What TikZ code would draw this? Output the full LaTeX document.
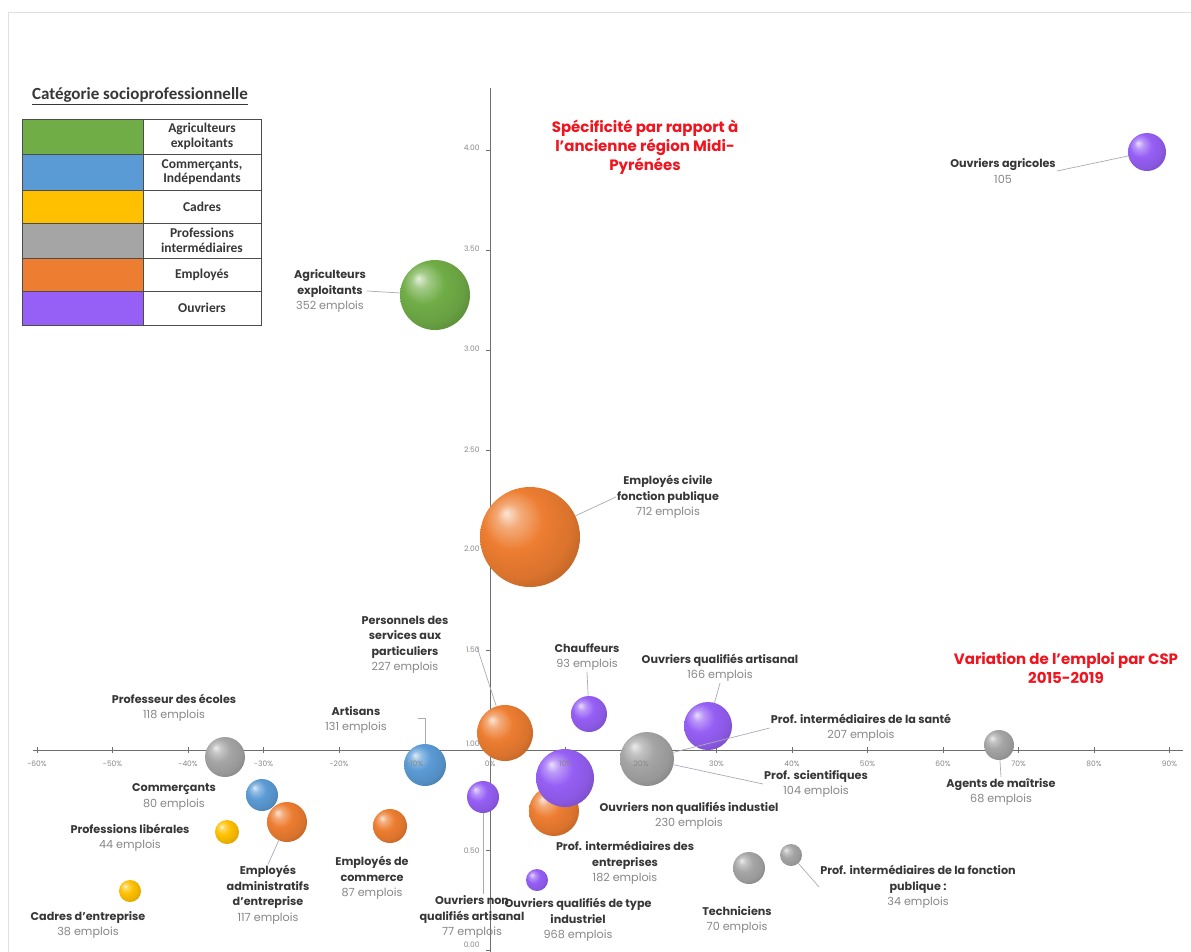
\documentclass[tikz,border=0pt]{standalone}
\usepackage{fontspec}
\setmainfont{Poppins}
\newfontfamily\legfont{Carlito}

\definecolor{cspgreen}{RGB}{112,173,71}
\definecolor{cspblue}{RGB}{91,155,213}
\definecolor{cspyellow}{RGB}{255,192,0}
\definecolor{cspgray}{RGB}{165,165,165}
\definecolor{csporange}{RGB}{237,125,49}
\definecolor{csppurple}{RGB}{150,95,245}
\definecolor{labgray}{RGB}{55,55,55}
\definecolor{numgray}{RGB}{135,135,135}
\definecolor{axisgray}{RGB}{110,110,110}
\definecolor{leadgray}{RGB}{170,170,185}
\definecolor{titlered}{RGB}{240,20,30}
\colorlet{bcol}{cspgray}

% sphere shading, coloured by bcol
\pgfdeclareradialshading[bcol]{cspball}{\pgfpoint{-12bp}{12bp}}{%
  color(0bp)=(bcol!20!white); color(6bp)=(bcol!65!white);
  color(15bp)=(bcol); color(26bp)=(bcol!92!black);
  color(38bp)=(bcol!72!black); color(50bp)=(bcol!45!black)}

\newcommand{\nb}[1]{\\{\mdseries\color{numgray}#1}}

\tikzset{
  bcolor/.code={\colorlet{bcol}{#1}},
  bubble/.style={circle, inner sep=0pt, minimum size=#1},
  sphere/.style={bcolor=#1, shading=cspball},
  lab/.style={align=center, inner sep=1pt, text=labgray,
    font=\bfseries\fontsize{11.2}{15.5}\selectfont},
  leader/.style={draw=leadgray, line width=0.7pt},
  axisline/.style={draw=axisgray, line width=1pt},
  ticklab/.style={text=numgray, font=\fontsize{7.5}{8}\selectfont},
  redtitle/.style={align=center, text=titlered,
    font=\bfseries\fontsize{15}{19}\selectfont},
  legcell/.style={align=center, text=labgray,
    font=\legfont\bfseries\fontsize{13.5}{14.5}\selectfont},
}

\begin{document}
\begin{tikzpicture}[x=1pt,y=-1pt]
	\useasboundingbox (0,0) rectangle (1191,951);
	\fill[white] (0,0) rectangle (1191,951);
	\draw[black!12] (8,12) rectangle (1200,960);

	% legend
	\node[text=labgray, font=\legfont\bfseries\fontsize{17}{18}\selectfont] (legtitle) at (140,96) {\underline{Catégorie socioprofessionnelle}};
	\fill[cspgreen] (22,119) rectangle (143,154);
	\fill[cspblue] (22,154) rectangle (143,190);
	\fill[cspyellow] (22,190) rectangle (143,223);
	\fill[cspgray] (22,223) rectangle (143,258);
	\fill[csporange] (22,258) rectangle (143,291);
	\fill[csppurple] (22,291) rectangle (143,325);
	\draw[black!70] (22,119) rectangle (261,325);
	\draw[black!70] (143,119) -- (143,325);
	\draw[black!70] (22,154) -- (261,154);
	\draw[black!70] (22,190) -- (261,190);
	\draw[black!70] (22,223) -- (261,223);
	\draw[black!70] (22,258) -- (261,258);
	\draw[black!70] (22,291) -- (261,291);
	\node[legcell] (leg1) at (202,136.5) {Agriculteurs\\exploitants};
	\node[legcell] (leg2) at (202,172) {Commerçants,\\Indépendants};
	\node[legcell] (leg3) at (202,206.5) {Cadres};
	\node[legcell] (leg4) at (202,240.5) {Professions\\intermédiaires};
	\node[legcell] (leg5) at (202,274.5) {Employés};
	\node[legcell] (leg6) at (202,308) {Ouvriers};

	% axes
	\draw[axisline] (33,750) -- (1183,750);
	\draw[axisline] (490,88) -- (490,960);
	\foreach \k in {-6,...,9}
		\draw[axisgray] (490+75.5*\k,747) -- (490+75.5*\k,753);
	\foreach \v in {0,...,8}
		\draw[axisgray] (486,950-100*\v) -- (490,950-100*\v);

	% bubbles
	\node[bubble=38, sphere=csppurple] (b_ouvagr) at (1147,152) {};
	\node[bubble=70, sphere=cspgreen] (b_agr) at (435,295) {};
	\node[bubble=100, sphere=csporange] (b_civ) at (530,537) {};
	\node[bubble=56, sphere=csporange] (b_pers) at (505,733) {};
	\node[bubble=36, sphere=csppurple] (b_chauf) at (589,714) {};
	\node[bubble=48, sphere=csppurple] (b_ouvqa) at (708,726) {};
	\node[bubble=54, sphere=cspgray] (b_sante) at (647,759) {};
	\node[bubble=30, sphere=cspgray] (b_agents) at (999,745) {};
	\node[bubble=40, sphere=cspgray] (b_profe) at (225,757) {};
	\node[bubble=42, sphere=cspblue] (b_art) at (425,765) {};
	\node[bubble=32, sphere=cspblue] (b_comm) at (262,795) {};
	\node[bubble=24, sphere=cspyellow] (b_lib) at (227,832) {};
	\node[bubble=40, sphere=csporange] (b_empadm) at (287,822) {};
	\node[bubble=34, sphere=csporange] (b_empcom) at (390,826) {};
	\node[bubble=22, sphere=cspyellow] (b_cadres) at (130,891) {};
	\node[bubble=32, sphere=csppurple] (b_ouvnqa) at (483,797) {};
	\node[bubble=50, sphere=csporange] (b_entr) at (554,811) {};
	\node[bubble=58, sphere=csppurple] (b_ouvnqi) at (565,778) {};
	\node[bubble=22, sphere=csppurple] (b_ouvqi) at (537,880) {};
	\node[bubble=32, sphere=cspgray] (b_techn) at (749,868) {};
	\node[bubble=22, sphere=cspgray] (b_fpub) at (791,855) {};

	% tick labels
	\foreach \k in {-6,...,9}
		\node[ticklab] at (490+75.5*\k,764) {\pgfmathtruncatemacro\p{10*\k}\p\%};
	\node[ticklab, anchor=east] (y400) at (483,148) {4.00};
	\node[ticklab, anchor=east] (y350) at (483,249) {3.50};
	\node[ticklab, anchor=east] (y300) at (483,349) {3.00};
	\node[ticklab, anchor=east] (y250) at (483,450) {2.50};
	\node[ticklab, anchor=east] (y200) at (483,549) {2.00};
	\node[ticklab, anchor=east] (y150) at (483,650) {1.50};
	\node[ticklab, anchor=east] (y100) at (483,744) {1.00};
	\node[ticklab, anchor=east] (y050) at (483,851) {0.50};
	\node[ticklab, anchor=east] (y000) at (483,945) {0.00};

	% titles
	\node[redtitle] (t_spec) at (645,147) {Spécificité par rapport à\\l'ancienne région Midi-\\Pyrénées};
	\node[redtitle] (t_var) at (1066,668) {Variation de l'emploi par CSP\\2015-2019};

	% labels
	\node[lab] (l_ouvagr) at (1003,171) {Ouvriers agricoles\nb{105}};
	\node[lab] (l_agr) at (330,291) {Agriculteurs\\exploitants\nb{352 emplois}};
	\node[lab] (l_civ) at (668,497) {Employés civile\\fonction publique\nb{712 emplois}};
	\node[lab] (l_pers) at (405,645) {Personnels des\\services aux\\particuliers\nb{227 emplois}};
	\node[lab] (l_chauf) at (587,657) {Chauffeurs\nb{93 emplois}};
	\node[lab] (l_ouvqa) at (720,668) {Ouvriers qualifiés artisanal\nb{166 emplois}};
	\node[lab] (l_sante) at (861,728) {Prof. intermédiaires de la santé\nb{207 emplois}};
	\node[lab] (l_scient) at (816,784) {Prof. scientifiques\nb{104 emplois}};
	\node[lab] (l_agents) at (1001,792) {Agents de maîtrise\nb{68 emplois}};
	\node[lab] (l_ouvnqi) at (689,816) {Ouvriers non qualifiés industiel\nb{230 emplois}};
	\node[lab] (l_entr) at (625,863) {Prof. intermédiaires des\\entreprises\nb{182 emplois}};
	\node[lab] (l_ouvqi) at (578,920) {Ouvriers qualifiés de type\\industriel\nb{968 emplois}};
	\node[lab] (l_ouvnqa) at (472,917) {Ouvriers non\\qualifiés artisanal\nb{77 emplois}};
	\node[lab] (l_techn) at (737,920) {Techniciens\nb{70 emplois}};
	\node[lab] (l_fpub) at (918,887) {Prof. intermédiaires de la fonction\\publique :\nb{34 emplois}};
	\node[lab] (l_profe) at (174,708) {Professeur des écoles\nb{118 emplois}};
	\node[lab] (l_art) at (356,720) {Artisans\nb{131 emplois}};
	\node[lab] (l_comm) at (174,797) {Commerçants\nb{80 emplois}};
	\node[lab] (l_lib) at (130,838) {Professions libérales\nb{44 emplois}};
	\node[lab] (l_empadm) at (268,895) {Employés\\administratifs\\d'entreprise\nb{117 emplois}};
	\node[lab] (l_empcom) at (372,878) {Employés de\\commerce\nb{87 emplois}};
	\node[lab] (l_cadres) at (88,925) {Cadres d'entreprise\nb{38 emplois}};

	% leader lines
	\coordinate (k_pers) at (477,647);
	\coordinate (k_art) at (418,718);
	\draw[leader] (l_ouvagr.east) -- (b_ouvagr);
	\draw[leader] (l_agr.east) -- (b_agr);
	\draw[leader] (l_civ.west) -- (b_civ);
	\draw[leader] (k_pers) -- (b_pers);
	\draw[leader] (l_chauf.south) -- (b_chauf);
	\draw[leader] (l_ouvqa.south) -- (b_ouvqa);
	\draw[leader] (l_sante.west) -- (b_sante);
	\draw[leader] (l_scient.west) -- (b_sante);
	\draw[leader] (b_agents) -- (l_agents.north);
	\draw[leader] (k_art) -| (b_art);
	\draw[leader] (b_empadm) -- (l_empadm.north);
	\draw[leader] (b_ouvnqa.south) -- (b_ouvnqa.south |- l_ouvnqa.north);
	\draw[leader] (b_fpub) -- (l_fpub.west);
\end{tikzpicture}
\end{document}
